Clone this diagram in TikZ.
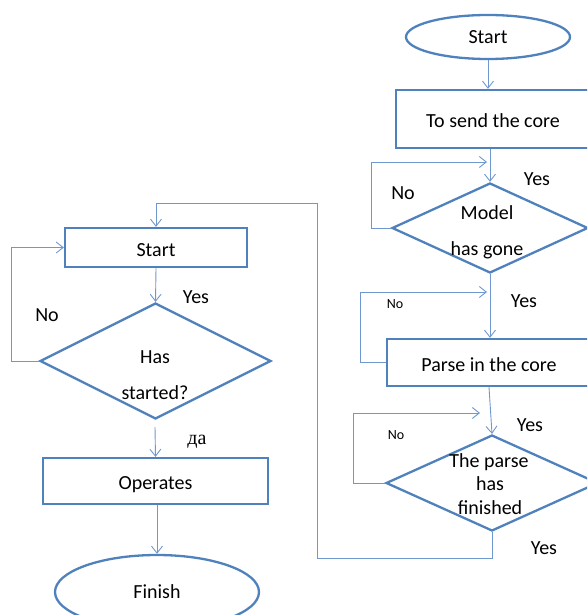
\documentclass[tikz,border=0pt]{standalone}
\usepackage{fontspec}
\setmainfont{Carlito}
\newfontfamily\cyrserif{Liberation Serif}
\usetikzlibrary{shapes.geometric,arrows.meta}
\definecolor{boxblue}{HTML}{4F81BD}
\definecolor{lineblue}{HTML}{6F98CF}

\begin{document}
\begin{tikzpicture}[x=1pt,y=-1pt,
  font=\fontsize{20}{24}\selectfont,
  procbox/.style={draw=boxblue, line width=2.3pt, rectangle, inner sep=0pt, text height=17pt, text depth=0pt},
  termbox/.style={draw=boxblue, line width=2.3pt, ellipse, inner sep=0pt, text depth=0pt},
  decbox/.style={draw=boxblue, line width=2.3pt, diamond, inner sep=0pt},
  flow/.style={draw=lineblue, line width=0.9pt, -{Straight Barb[length=7pt,width=11pt]}},
  tag/.style={inner sep=0pt, text depth=0pt},
  smalltag/.style={inner sep=0pt, text depth=0pt, font=\fontsize{14}{16}\selectfont}]

\useasboundingbox (0,0) rectangle (587,615);
\clip (0,0) rectangle (587,615);

% right column
\node[termbox, minimum width=164, minimum height=44] (rstart) at (488,37) {Start};
\node[procbox, minimum width=194, minimum height=58] (send) at (493,119) {To send the core};
\node[decbox, minimum width=196, minimum height=90] (model) at (490,228) {};
\node[tag] (modeltop) at (487,213) {Model};
\node[tag] (modelbot) at (487,249) {has gone};
\node[procbox, minimum width=204, minimum height=47] (parse) at (489,362.5) {Parse in the core};
\node[decbox, minimum width=212, minimum height=96] (finq) at (492,483) {};
\node[tag] (finqa) at (489,461) {The parse};
\node[tag] (finqb) at (490,484) {has};
\node[tag] (finqc) at (490,508) {finished};

% left column
\node[procbox, minimum width=182, minimum height=39] (lstart) at (156,247.5) {Start};
\node[decbox, minimum width=231, minimum height=116] (hasq) at (155.5,361) {};
\node[tag] (hasa) at (155,357) {Has};
\node[tag] (hasb) at (155,393) {started?};
\node[procbox, minimum width=225, minimum height=46] (oper) at (155.5,481) {Operates};
\node[termbox, minimum width=204, minimum height=74] (finish) at (157,592) {Finish};

% free ends
\coordinate (modelin) at (487,162);
\coordinate (parsein) at (487,292);
\coordinate (finqin) at (480,413);
\coordinate (turn) at (317,203);
\coordinate (operin) at (155,427);

% connectors
\draw[flow] (rstart.south) -- (rstart.south |- send.north);
\draw[flow] (model.north |- send.south) -- (model.north);
\draw[flow] (model.west) -- ++(-19,0) |- (modelin);
\draw[flow] (model.south) -- (model.south |- parse.north);
\draw[flow] (parse.west) -- ++(-25,0) |- (parsein);
\draw[flow] (parse.south) -- (finq.north);
\draw[flow] (finq.west) -- ++(-31,0) |- (finqin);
\draw[flow] (finq.south) -- ++(0,26) -| (turn) -| (lstart.north);

\draw[flow] (lstart.south) -- (hasq.north);
\draw[flow] (hasq.west) -- ++(-27,0) |- (lstart.west);
\draw[flow] (operin) -- (oper.north);
\draw[flow] (oper.south -| finish.north) -- (finish.north);

% labels
\node[tag] (y1) at (537,179) {Yes};
\node[tag] (n1) at (403,193) {No};
\node[smalltag] (n2) at (395,304) {No};
\node[tag] (y2) at (524,301) {Yes};
\node[smalltag] (n3) at (396,435) {No};
\node[tag] (y3) at (530,425) {Yes};
\node[tag] (y4) at (544,548) {Yes};
\node[tag] (n4) at (47,315) {No};
\node[tag] (y5) at (196,297) {Yes};
\node[tag] (da) at (197,440) {\cyrserif да};

\end{tikzpicture}
\end{document}
